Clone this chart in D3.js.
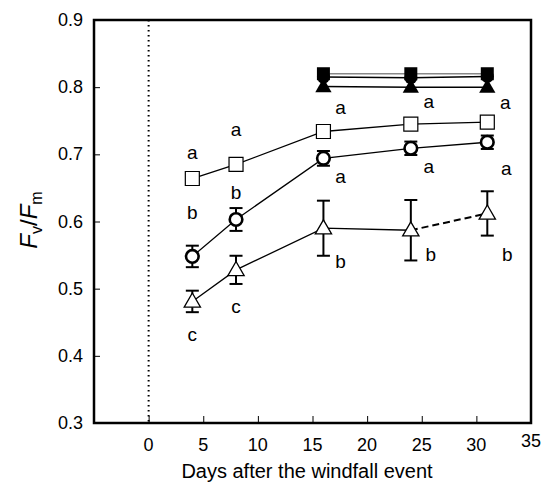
<!DOCTYPE html>
<html>
<head>
<meta charset="utf-8">
<script src="https://cdn.jsdelivr.net/npm/d3@7/dist/d3.min.js"></script>
<style>
  html, body { margin: 0; padding: 0; background: #fff; }
  svg { display: block; font-family: "Liberation Sans", Arial, sans-serif; }
</style>
</head>
<body>
<svg id="chart" width="542" height="494"></svg>
<script>
// Sampling days after the windfall event
const days = [4, 8, 16, 24, 31];
const lateDays = [16, 24, 31];

// Fv/Fm means for the open-symbol treatments, with error bars
const squareOpen = [0.664, 0.685, 0.734, 0.745, 0.748];
const circleOpen = [0.548, 0.603, 0.694, 0.709, 0.718];
const circleErr = [0.016, 0.017, 0.011, 0.010, 0.010];
const triangleOpen = [0.481, 0.528, 0.590, 0.587, 0.612];
const triangleErr = [0.016, 0.021, 0.041, 0.045, 0.033];

// Filled-symbol treatments (measured from day 16)
const squareFilled = [0.820, 0.820, 0.820];
const circleFilled = [0.815, 0.814, 0.816];
const triangleFilled = [0.801, 0.800, 0.800];

// Significance letters per day
const squareLetters = ["a", "a", "a", "a", "a"];
const circleLetters = ["b", "b", "a", "a", "a"];
const triangleLetters = ["c", "c", "b", "b", "b"];

const xTicks = [0, 5, 10, 15, 20, 25, 30, 35];
const yTicks = [0.3, 0.4, 0.5, 0.6, 0.7, 0.8, 0.9];

const svg = d3.select("#chart");
const plotLeft = 94, plotRight = 531, plotTop = 20, plotBottom = 423;

const x = d3.scaleLinear().domain([-5, 35]).range([plotLeft, plotRight]);
const y = d3.scaleLinear().domain([0.3, 0.9]).range([plotBottom, plotTop]);

// Dotted reference line at day 0
svg.append("line")
  .attr("x1", x(0)).attr("x2", x(0))
  .attr("y1", plotTop).attr("y2", plotBottom)
  .attr("stroke", "#000").attr("stroke-width", 2)
  .attr("stroke-dasharray", "1.6,3.4");

// Inward ticks
const xAxis = d3.axisBottom(x).tickValues(xTicks.filter(t => t < 35)).tickSizeInner(-7).tickSizeOuter(0).tickFormat("");
svg.append("g").attr("transform", `translate(0,${plotBottom})`).call(xAxis)
  .call(g => g.select(".domain").remove())
  .call(g => g.selectAll("line").attr("stroke-width", 1));
const yAxis = d3.axisLeft(y).tickValues(yTicks.slice(1, -1)).tickSizeInner(-6).tickSizeOuter(0).tickFormat("");
svg.append("g").attr("transform", `translate(${plotLeft},0)`).call(yAxis)
  .call(g => g.select(".domain").remove())
  .call(g => g.selectAll("line").attr("stroke-width", 1));

// Tick labels
svg.append("g").selectAll("text").data(xTicks).join("text")
  .attr("x", d => x(d))
  .attr("y", d => d === 35 ? 447 : 451)
  .attr("text-anchor", "middle")
  .attr("font-size", 18)
  .text(d => d);
svg.append("g").selectAll("text").data(yTicks).join("text")
  .attr("x", 83)
  .attr("y", d => y(d) + 6)
  .attr("text-anchor", "end")
  .attr("font-size", 18)
  .text(d => d3.format(".1f")(d));

// Axis titles
svg.append("text")
  .attr("x", 307).attr("y", 478)
  .attr("text-anchor", "middle")
  .attr("font-size", 20)
  .text("Days after the windfall event");

const yt = svg.append("text")
  .attr("transform", "translate(37,220) rotate(-90)")
  .attr("text-anchor", "middle")
  .attr("font-size", 24);
yt.append("tspan").attr("font-style", "italic").text("F");
yt.append("tspan").attr("font-size", 16).attr("dy", 5).text("v");
yt.append("tspan").attr("dy", -5).text("/");
yt.append("tspan").attr("font-style", "italic").text("F");
yt.append("tspan").attr("font-size", 16).attr("dy", 5).text("m");

// Helpers
const pts = (xs, ys) => xs.map((d, i) => [d, ys[i]]);
const line = d3.line().x(d => x(d[0])).y(d => y(d[1]));

function errorBars(xs, ys, es, width) {
  const g = svg.append("g").attr("stroke", "#000").attr("stroke-width", 2);
  xs.forEach((d, i) => {
    const cx = x(d), y0 = y(ys[i] - es[i]), y1 = y(ys[i] + es[i]);
    g.append("line").attr("x1", cx).attr("x2", cx).attr("y1", y0).attr("y2", y1);
    g.append("line").attr("x1", cx - width / 2).attr("x2", cx + width / 2).attr("y1", y0).attr("y2", y0);
    g.append("line").attr("x1", cx - width / 2).attr("x2", cx + width / 2).attr("y1", y1).attr("y2", y1);
  });
}

const sq = d3.symbol().type(d3.symbolSquare).size(196);
const tri = d3.symbol().type(d3.symbolTriangle).size(115);

// Filled treatments: lines first, markers on top
svg.append("path").attr("d", line(pts(lateDays, squareFilled)))
  .attr("fill", "none").attr("stroke", "#888").attr("stroke-width", 1.5);
svg.append("path").attr("d", line(pts(lateDays, circleFilled)))
  .attr("fill", "none").attr("stroke", "#000").attr("stroke-width", 1.5);
svg.append("path").attr("d", line(pts(lateDays, triangleFilled)))
  .attr("fill", "none").attr("stroke", "#000").attr("stroke-width", 1.5);

svg.append("g").selectAll("path").data(pts(lateDays, triangleFilled)).join("path")
  .attr("d", tri).attr("transform", d => `translate(${x(d[0])},${y(d[1]) + 1})`)
  .attr("fill", "#000");
svg.append("g").selectAll("circle").data(pts(lateDays, circleFilled)).join("circle")
  .attr("cx", d => x(d[0])).attr("cy", d => y(d[1])).attr("r", 6.5)
  .attr("fill", "#000");
svg.append("g").selectAll("path").data(pts(lateDays, squareFilled)).join("path")
  .attr("d", d3.symbol().type(d3.symbolSquare).size(169))
  .attr("transform", d => `translate(${x(d[0])},${y(d[1])})`)
  .attr("fill", "#000");

// Open triangles: solid segments, then a dashed last segment
svg.append("path").attr("d", line(pts(days, triangleOpen).slice(0, 4)))
  .attr("fill", "none").attr("stroke", "#000").attr("stroke-width", 1.3);
svg.append("path").attr("d", line(pts(days, triangleOpen).slice(3)))
  .attr("fill", "none").attr("stroke", "#000").attr("stroke-width", 2)
  .attr("stroke-dasharray", "7,4");
errorBars(days, triangleOpen, triangleErr, 13);
svg.append("g").selectAll("path").data(pts(days, triangleOpen)).join("path")
  .attr("d", tri).attr("transform", d => `translate(${x(d[0])},${y(d[1]) + 1})`)
  .attr("fill", "#fff").attr("stroke", "#000").attr("stroke-width", 1.3);

// Open circles
svg.append("path").attr("d", line(pts(days, circleOpen)))
  .attr("fill", "none").attr("stroke", "#000").attr("stroke-width", 1.3);
errorBars(days, circleOpen, circleErr, 13);
svg.append("g").selectAll("circle").data(pts(days, circleOpen)).join("circle")
  .attr("cx", d => x(d[0])).attr("cy", d => y(d[1])).attr("r", 6.3)
  .attr("fill", "#fff").attr("stroke", "#000").attr("stroke-width", 2.6);

// Open squares
svg.append("path").attr("d", line(pts(days, squareOpen)))
  .attr("fill", "none").attr("stroke", "#000").attr("stroke-width", 1.3);
svg.append("g").selectAll("path").data(pts(days, squareOpen)).join("path")
  .attr("d", sq).attr("transform", d => `translate(${x(d[0])},${y(d[1])})`)
  .attr("fill", "#fff").attr("stroke", "#000").attr("stroke-width", 1.2);

// Letter placement around each mark (pixel offsets from the mark)
const squareOffsets = [[0, -26], [0, -34], [17, -23], [18, -22], [18, -19]];
const circleOffsets = [[0, -43], [0, -26], [17, 19], [18, 19], [19, 27]];
const triangleOffsets = [[0, 34], [0, 37], [17, 34], [20, 25], [20, 42]];

function letters(vals, labs, offs) {
  svg.append("g").selectAll("text").data(days).join("text")
    .attr("x", (d, i) => x(d) + offs[i][0])
    .attr("y", (d, i) => y(vals[i]) + offs[i][1] + 6)
    .attr("text-anchor", "middle")
    .attr("font-size", 19)
    .text((d, i) => labs[i]);
}
letters(squareOpen, squareLetters, squareOffsets);
letters(circleOpen, circleLetters, circleOffsets);
letters(triangleOpen, triangleLetters, triangleOffsets);

// Plot frame
svg.append("rect")
  .attr("x", plotLeft).attr("y", plotTop)
  .attr("width", plotRight - plotLeft).attr("height", plotBottom - plotTop)
  .attr("fill", "none").attr("stroke", "#000").attr("stroke-width", 2.5);
</script>
</body>
</html>
